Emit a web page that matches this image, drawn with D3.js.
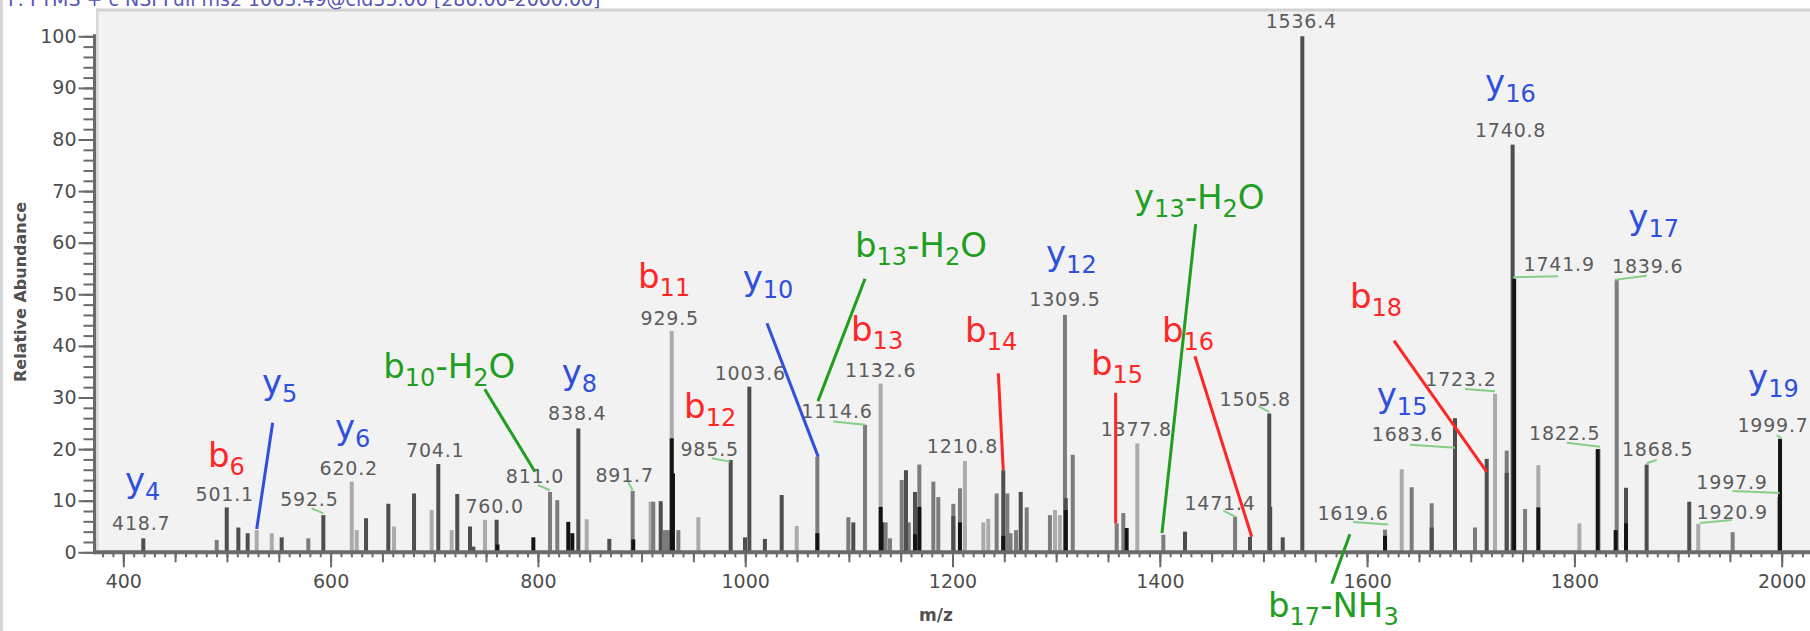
<!DOCTYPE html>
<html><head><meta charset="utf-8">
<script src="https://cdn.jsdelivr.net/npm/d3@7"></script>
<style>
html,body{margin:0;padding:0;background:#fff;}
svg{display:block;}
</style></head>
<body>
<svg id="chart" width="1810" height="631"></svg>
<script>
// ---------------- DATA ----------------
const xTickValues = [400, 600, 800, 1000, 1200, 1400, 1600, 1800, 2000];
const yTickValues = [0, 10, 20, 30, 40, 50, 60, 70, 80, 90, 100];
const xAxisTitle = "m/z";
const yAxisTitle = "Relative Abundance";
const headerText = "F: FTMS + c NSI Full ms2 1063.49@cid35.00 [280.00-2000.00]";

// peaks: m/z, relative abundance, scan (overlaid spectra)
const peakMz = [419.3,490.1,499.8,511.0,520.0,528.7,543.2,552.8,578.5,593.0,620.4,625.2,634.2,655.7,661.2,680.5,697.5,703.9,716.8,722.2,734.5,737.7,749.0,760.2,761.0,795.6,811.7,818.7,829.3,833.2,839.0,847.1,868.9,891.4,892.0,908.8,911.3,918.5,922.6,925.5,929.1,929.1,930.3,935.5,954.8,986.0,999.8,1004.0,1019.0,1035.2,1049.7,1069.6,1069.6,1099.5,1104.3,1115.6,1130.7,1130.7,1131.7,1135.5,1139.7,1151.0,1155.1,1157.8,1163.8,1163.8,1168.0,1168.0,1181.5,1186.3,1200.8,1200.8,1207.2,1207.2,1212.0,1229.7,1234.5,1242.6,1249.0,1249.0,1252.9,1256.0,1261.3,1265.8,1271.6,1294.0,1298.9,1303.6,1308.5,1309.3,1309.3,1316.0,1358.4,1364.8,1368.0,1378.3,1403.4,1424.3,1472.6,1487.0,1505.6,1506.5,1518.6,1537.5,1617.3,1617.3,1633.4,1643.0,1662.3,1662.3,1684.8,1704.1,1715.4,1723.4,1734.7,1734.7,1740.4,1741.9,1752.4,1765.2,1765.2,1804.8,1823.5,1822.5,1840.8,1839.8,1849.8,1849.8,1869.7,1910.8,1919.5,1952.7,1998.4,1997.9];
const peakAbundance = [2.7,2.4,8.7,4.8,3.7,4.3,3.7,2.9,2.7,7.2,13.7,4.3,6.6,9.4,5.0,11.4,8.2,17.1,4.3,11.3,5.0,1.1,6.3,6.3,1.5,2.9,11.7,10.1,5.9,3.7,24.0,6.4,2.6,11.9,2.5,9.8,9.8,9.9,4.3,4.3,42.9,22.1,15.3,4.3,6.8,17.9,2.9,32.1,2.6,11.1,5.1,18.5,3.7,6.8,5.8,24.7,32.7,8.8,5.8,5.8,2.7,14.0,15.9,5.8,11.7,3.5,17.0,8.8,13.7,10.7,9.4,7.0,12.4,5.8,17.7,5.8,6.5,11.4,15.9,3.2,11.4,3.7,4.3,11.7,8.7,7.2,8.2,7.2,46.0,10.5,8.2,18.9,5.6,7.6,4.7,21.1,3.4,4.0,6.9,3.0,26.9,8.8,2.9,100,4.4,3.2,16.1,12.6,9.5,4.8,26.0,4.8,18.1,30.7,19.7,15.4,79.0,53.0,8.4,16.9,8.7,5.6,20.0,20.0,52.8,4.3,12.5,5.6,17.0,9.8,5.5,3.9,22.0,10.7];
const peakScan = [1,2,1,1,1,3,3,1,2,1,3,3,1,1,3,1,3,1,3,1,1,1,3,1,0,0,2,2,0,0,1,3,1,2,0,3,2,1,2,2,3,0,0,2,3,1,1,1,1,1,3,2,0,2,1,2,3,0,0,2,2,2,1,2,1,0,2,0,2,2,2,1,2,0,3,3,3,2,1,0,2,2,2,1,2,2,3,3,2,1,0,2,2,2,0,3,2,1,2,1,1,1,1,1,2,0,3,2,2,1,1,2,1,3,2,1,1,0,2,3,0,3,3,0,2,0,1,0,1,1,3,2,0,1];

// peak m/z labels (text, m/z of the labelled peak)
const labelText = ["418.7","501.1","592.5","620.2","704.1","760.0","811.0","838.4","891.7","929.5","985.5","1003.6","1114.6","1132.6","1210.8","1309.5","1377.8","1471.4","1505.8","1536.4","1619.6","1683.6","1723.2","1740.8","1741.9","1822.5","1839.6","1868.5","1920.9","1997.9","1999.7"];
const labelPeakMz = [419.3,499.8,593.0,620.4,703.9,760.2,811.7,839.0,891.4,929.1,986.0,1004.0,1115.6,1130.7,1212.0,1308.5,1378.3,1472.6,1505.6,1537.5,1617.3,1684.8,1723.4,1740.4,1741.9,1822.5,1840.8,1869.7,1919.5,1997.9,1998.4];

// fragment ion annotations ("|" separates normal / subscript parts)
const ionText = ["y|4","b|6","y|5","y|6","b|10|-H|2|O","y|8","b|11","b|12","y|10","b|13|-H|2|O","b|13","b|14","y|12","y|13|-H|2|O","b|15","b|16","b|17|-NH|3","b|18","y|15","y|16","y|17","y|19"];
const ionKind = ["y","b","y","y","n","y","b","b","y","n","b","b","y","n","b","b","n","b","y","y","y","y"];

// ---------------- LAYOUT (not data) ----------------
// anchor of each ion annotation, in data units (m/z, abundance)
const ionAnchor = [[401.6,11.7],[481.7,16.5],[533.8,30.7],[604.2,22.0],[650.8,33.8],[823.0,32.7],[896.6,51.2],[941.0,26.0],[997.6,50.8],[1105.9,57.3],[1102.1,41.0],[1212.1,40.7],[1290.2,55.7],[1375.1,66.5],[1333.6,34.4],[1402.1,40.8],[1504.4,-12.5],[1583.4,47.3],[1609.3,28.2],[1713.8,88.8],[1852.0,62.7],[1967.5,31.6]];
// pointer lines: [ion index, from m/z, from ab, to m/z, to ab]
const ionPointer = [[2,544.1,25.1,528.7,4.5],[4,748.7,31.6,797.2,15.6],[8,1021.0,44.4,1070.5,18.5],[9,1115.6,53.0,1070.2,29.3],[11,1244.2,34.7,1249.0,15.9],[14,1357.4,30.9,1357.4,5.6],[13,1434.6,63.6,1402.1,3.7],[15,1433.9,38.0,1488.7,3.0],[16,1583.4,3.5,1566.0,-6.1],[17,1625.9,41.0,1715.4,15.6]];
// label offsets relative to peak top (px): dx, dy, optional leader [x1,y1,x2,y2]
const labelOffset = [[-2,-8],[-2,-6],[-14,-9,[-11.6,-6.7,0,-1.7]],[-3,-7],[-3,-7],[-2,-7],[-15,-9,[-12,-6.7,0,-1.7]],[-1,-8],[-8,-9,[-4.4,-8.7,0,-0.7]],[-2,-6],[-21,-4,[-19,-1.7,-0.7,1.7]],[1,-7],[-28,-7,[-31.7,-3.3,0,0]],[0,-7],[-2.5,-8],[0,-9],[-1,-7],[-15,-7,[-11.7,-6,0,0]],[-14,-7.5,[-11,-7.3,0,-1.6]],[-1,-8],[-32,-10,[-32,-7.5,3,-5]],[-47.5,23,[-45,26.7,0,29.7]],[-34,-8,[-30,-5,0,-2.6]],[-2,-8],[45,-8,[-1,-1.5,44,-2.5]],[-33,-9,[-31,-6.4,2.3,-2.4]],[31,-7,[-1.7,0,30,-4]],[11,-8.6,[0,-1.3,10,-4.6]],[34,-5,[1.7,-1,33.4,-4]],[-47.5,-8,[-47,-6,0,-4]],[-7,-7,[-3.3,-3.6,1.7,0]]];

const scanColor = ["#141414", "#4e4e4e", "#7c7c7c", "#ababab"];
const ionColor = {y: "#2f4fdc", b: "#ff2626", n: "#1f9e1f"};

// ---------------- DRAW ----------------
const svg = d3.select("#chart");
const x = d3.scaleLinear().domain([400, 2000]).range([123.3, 1781.7]);
const y = d3.scaleLinear().domain([0, 100]).range([552.3, 36.3]);
const FONT = "'DejaVu Sans', Verdana, sans-serif";

// frame
svg.append("rect").attr("x", 0).attr("y", 0).attr("width", 1810).attr("height", 631).attr("fill", "#ffffff");
svg.append("rect").attr("x", 0).attr("y", 0).attr("width", 3).attr("height", 631).attr("fill", "#d6d6d6");
svg.append("rect").attr("x", 96).attr("y", 11).attr("width", 1714).attr("height", 541).attr("fill", "#f2f2f2");
svg.append("rect").attr("x", 96).attr("y", 8.5).attr("width", 1714).attr("height", 3).attr("fill", "#d2d2d2");
svg.append("rect").attr("x", 96).attr("y", 8.5).attr("width", 2.5).attr("height", 544).attr("fill", "#d8d8d8");

// header (partly above the top edge, as in the reference)
svg.append("text").attr("x", 8).attr("y", 6).attr("fill", "#5656b8")
  .style("font-family", FONT).style("font-size", "19px").text(headerText);

// bars
const peaks = peakMz.map((m, i) => ({mz: m, ab: peakAbundance[i], scan: peakScan[i]}));
const order = [3, 2, 1, 0];
svg.append("g").selectAll("rect")
  .data(peaks.slice().sort((a, b) => order.indexOf(a.scan) - order.indexOf(b.scan)))
  .join("rect")
  .attr("x", d => x(d.mz) - 2)
  .attr("width", 4)
  .attr("y", d => y(d.ab))
  .attr("height", d => y(0) - y(d.ab))
  .attr("fill", d => scanColor[d.scan]);

// axes
const axisColor = "#6a6a6a";
function styleAxis(g) {
  g.select(".domain").remove();
  g.selectAll(".tick line").attr("stroke", axisColor).attr("stroke-width", 2);
  g.selectAll(".tick text").attr("fill", "#4d4d4d").style("font-family", FONT).style("font-size", "19px");
}
const gx = svg.append("g").attr("transform", `translate(0,${y(0)})`);
gx.append("g").call(d3.axisBottom(x).tickValues(d3.range(380, 2030, 10)).tickSize(5).tickFormat("")).call(styleAxis);
gx.append("g").call(d3.axisBottom(x).tickValues(d3.range(400, 2030, 50)).tickSize(10).tickFormat("")).call(styleAxis);
gx.append("g").call(d3.axisBottom(x).tickValues(xTickValues).tickSize(15).tickPadding(7).tickFormat(d3.format("d"))).call(styleAxis);

const gy = svg.append("g").attr("transform", "translate(94.5,0)");
gy.append("g").call(d3.axisLeft(y).tickValues(d3.range(0, 101, 2)).tickSize(11).tickFormat("")).call(styleAxis);
gy.append("g").call(d3.axisLeft(y).tickValues(yTickValues).tickSize(16).tickPadding(2).tickFormat(d3.format("d"))).call(styleAxis);

svg.append("line").attr("x1", 94.5).attr("x2", 1810).attr("y1", y(0)).attr("y2", y(0))
  .attr("stroke", axisColor).attr("stroke-width", 4);
svg.append("line").attr("x1", 94.5).attr("x2", 94.5).attr("y1", y(0) + 2).attr("y2", y(100) - 2)
  .attr("stroke", axisColor).attr("stroke-width", 3);

// axis titles
svg.append("text").attr("x", 936).attr("y", 621).attr("text-anchor", "middle").attr("fill", "#505050")
  .style("font-family", FONT).style("font-size", "17px").style("font-weight", "bold").text(xAxisTitle);
svg.append("text").attr("transform", "translate(26,292) rotate(-90)").attr("text-anchor", "middle").attr("fill", "#505050")
  .style("font-family", FONT).style("font-size", "16px").style("font-weight", "bold").text(yAxisTitle);

// peak labels
function peakTop(mz) {
  const hits = peaks.filter(p => Math.abs(p.mz - mz) < 0.05);
  return d3.max(hits, p => p.ab);
}
const gl = svg.append("g");
labelText.forEach((t, i) => {
  const m = labelPeakMz[i];
  const px = x(m), py = y(peakTop(m));
  const o = labelOffset[i];
  if (o[2]) {
    const L = o[2];
    gl.append("line").attr("x1", px + L[0]).attr("y1", py + L[1]).attr("x2", px + L[2]).attr("y2", py + L[3])
      .attr("stroke", "#86cf86").attr("stroke-width", 2);
  }
  gl.append("text").attr("x", px + o[0]).attr("y", py + o[1]).attr("text-anchor", "middle")
    .attr("fill", "#5c5c5c").style("font-family", FONT).style("font-size", "19px").style("letter-spacing", "0.8px")
    .text(t);
});

// ion pointer lines
const ga = svg.append("g");
ionPointer.forEach(p => {
  ga.append("line").attr("x1", x(p[1])).attr("y1", y(p[2])).attr("x2", x(p[3])).attr("y2", y(p[4]))
    .attr("stroke", ionColor[ionKind[p[0]]]).attr("stroke-width", 3);
});
// ion labels
ionText.forEach((t, i) => {
  const a = ionAnchor[i];
  const txt = ga.append("text").attr("x", x(a[0])).attr("y", y(a[1]))
    .attr("fill", ionColor[ionKind[i]]).style("font-family", FONT).style("font-size", "34px");
  t.split("|").forEach((p, j) => {
    const ts = txt.append("tspan").text(p);
    if (j % 2 === 1) ts.attr("dy", 8).style("font-size", "24px");
    else if (j > 0) ts.attr("dy", -8);
  });
});
</script>
</body></html>
